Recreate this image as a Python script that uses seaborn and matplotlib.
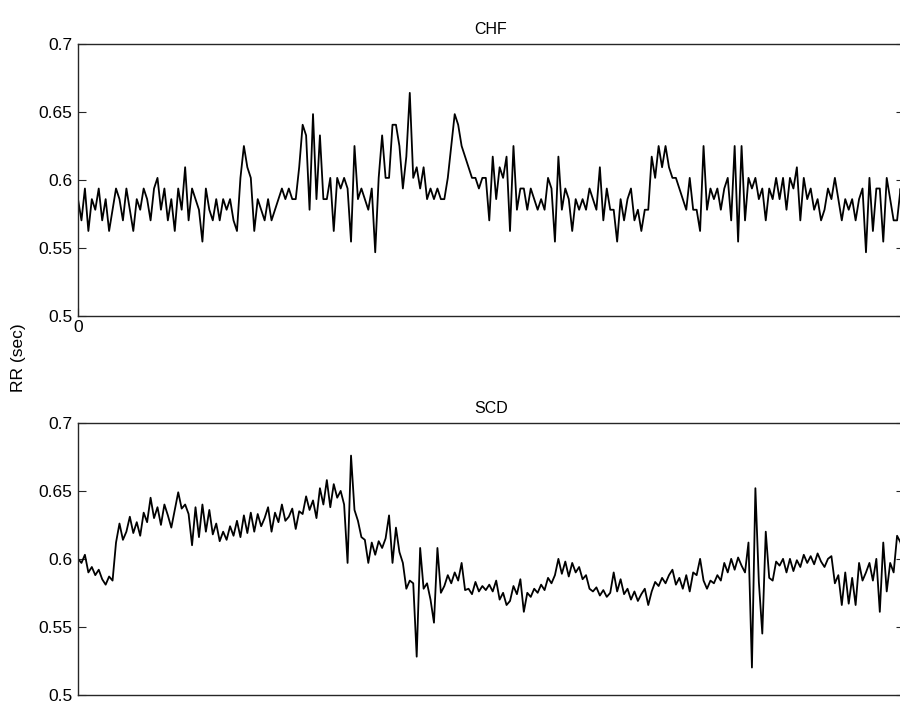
import numpy as np
import pandas as pd
import matplotlib
matplotlib.use("Agg")
import matplotlib.pyplot as plt
import seaborn as sns

# CHF RR intervals, in samples at 128 Hz
chf_counts = [
    75, 73, 76, 72, 75, 74, 76, 73, 75, 72, 74, 76, 75, 73, 76, 74, 72, 75, 74, 76,
    75, 73, 76, 77, 74, 76, 73, 75, 72, 76, 74, 78, 73, 76, 75, 74, 71, 76, 74, 73,
    75, 73, 75, 74, 75, 73, 72, 77, 80, 78, 77, 72, 75, 74, 73, 75, 73, 74, 75, 76,
    75, 76, 75, 75, 78, 82, 81, 74, 83, 75, 81, 75, 75, 77, 72, 77, 76, 77, 76, 71,
    80, 75, 76, 75, 74, 76, 70, 77, 81, 77, 77, 82, 82, 80, 76, 79, 85, 77, 78, 76,
    78, 75, 76, 75, 76, 75, 75, 77, 80, 83, 82, 80, 79, 78, 77, 77, 76, 77, 77, 73,
    79, 75, 78, 77, 79, 72, 80, 74, 76, 76, 74, 76, 75, 74, 75, 74, 77, 76, 71, 79,
    74, 76, 75, 72, 75, 74, 75, 74, 76, 75, 74, 78, 73, 76, 74, 74, 71, 75, 73, 75,
    76, 73, 74, 72, 74, 74, 79, 77, 80, 78, 80, 78, 77, 77, 76, 75, 74, 77, 74, 74,
    72, 80, 74, 76, 75, 76, 74, 76, 77, 73, 80, 71, 80, 73, 77, 76, 77, 75, 76, 73,
    76, 75, 77, 75, 77, 74, 77, 76, 78, 73, 77, 75, 76, 74, 75, 73, 74, 76, 75, 77,
    75, 73, 75, 74, 75, 73, 75, 76, 70, 77, 72, 76, 76, 71, 77, 75, 73, 73, 76, 72,
]
fs = 128.0

# SCD RR intervals in seconds
scd_rr = [
    0.600, 0.597, 0.603, 0.590, 0.594, 0.588, 0.592, 0.585, 0.581, 0.587,
    0.584, 0.612, 0.626, 0.614, 0.620, 0.631, 0.619, 0.627, 0.617, 0.634,
    0.627, 0.645, 0.630, 0.638, 0.625, 0.640, 0.632, 0.623, 0.636, 0.649,
    0.637, 0.640, 0.633, 0.610, 0.638, 0.616, 0.640, 0.620, 0.636, 0.618,
    0.626, 0.613, 0.620, 0.614, 0.624, 0.617, 0.628, 0.616, 0.632, 0.619,
    0.634, 0.620, 0.633, 0.624, 0.630, 0.638, 0.620, 0.634, 0.627, 0.640,
    0.628, 0.631, 0.637, 0.622, 0.635, 0.633, 0.646, 0.636, 0.643, 0.630,
    0.652, 0.640, 0.658, 0.638, 0.655, 0.645, 0.650, 0.640, 0.597, 0.676,
    0.636, 0.628, 0.616, 0.614, 0.597, 0.612, 0.603, 0.613, 0.608, 0.615,
    0.632, 0.597, 0.623, 0.605, 0.597, 0.578, 0.584, 0.582, 0.528, 0.608,
    0.578, 0.582, 0.570, 0.553, 0.608, 0.575, 0.580, 0.588, 0.582, 0.590,
    0.584, 0.597, 0.577, 0.578, 0.574, 0.583, 0.576, 0.580, 0.577, 0.581,
    0.576, 0.584, 0.570, 0.575, 0.566, 0.569, 0.580, 0.574, 0.585, 0.561,
    0.575, 0.572, 0.578, 0.575, 0.581, 0.577, 0.586, 0.582, 0.588, 0.600,
    0.589, 0.598, 0.587, 0.597, 0.590, 0.594, 0.585, 0.588, 0.578, 0.576,
    0.579, 0.573, 0.577, 0.572, 0.575, 0.590, 0.576, 0.585, 0.574, 0.578,
    0.570, 0.576, 0.569, 0.574, 0.578, 0.566, 0.576, 0.583, 0.580, 0.586,
    0.582, 0.588, 0.592, 0.581, 0.586, 0.578, 0.588, 0.576, 0.590, 0.588,
    0.600, 0.584, 0.578, 0.584, 0.582, 0.588, 0.584, 0.597, 0.590, 0.600,
    0.592, 0.601, 0.595, 0.590, 0.612, 0.520, 0.652, 0.583, 0.545, 0.620,
    0.586, 0.584, 0.598, 0.595, 0.600, 0.590, 0.600, 0.591, 0.599, 0.594,
    0.603, 0.597, 0.602, 0.596, 0.604, 0.598, 0.594, 0.600, 0.602, 0.582,
    0.588, 0.566, 0.590, 0.567, 0.586, 0.566, 0.597, 0.584, 0.590, 0.597,
    0.584, 0.600, 0.561, 0.612, 0.576, 0.597, 0.590, 0.617, 0.612, 0.597,
]

titles = ["CHF", "SCD"]
yticks = [0.5, 0.55, 0.6, 0.65, 0.7]
ytick_labels = ["0.5", "0.55", "0.6", "0.65", "0.7"]

sns.set_theme(style="white")
plt.rcParams['font.family'] = ['Liberation Sans', 'DejaVu Sans']

chf_rr = [c / fs for c in chf_counts]
df_chf = pd.DataFrame({"beat": np.arange(len(chf_rr)), "rr": chf_rr})
df_scd = pd.DataFrame({"beat": np.arange(len(scd_rr)), "rr": scd_rr})

fig = plt.figure(figsize=(9.0, 7.04), dpi=100)
W, H = 900.0, 704.0
left = 78 / W
width = 826 / W
ax1 = fig.add_axes([left, (H - 316) / H, width, (316 - 44) / H])
ax2 = fig.add_axes([left, (H - 694.7) / H, width, (694.7 - 423) / H])

for ax, df, title in [(ax1, df_chf, titles[0]), (ax2, df_scd, titles[1])]:
    sns.lineplot(data=df, x="beat", y="rr", ax=ax, color="black", linewidth=1.3)
    ax.set_xlim(0, len(df) - 1)
    ax.set_ylim(0.5, 0.7)
    ax.set_yticks(yticks)
    ax.set_yticklabels(ytick_labels)
    ax.set_xlabel("")
    ax.set_ylabel("")
    ax.set_title(title, fontsize=11.5, pad=7, color="black")
    for s in ax.spines.values():
        s.set_visible(True)
        s.set_color("#262626")
        s.set_linewidth(1.0)
    ax.tick_params(axis="y", direction="in", length=6, width=0.8, left=True,
                   right=True, labelsize=12.5, colors="#262626", labelcolor="black", pad=4)
    ax.tick_params(axis="x", direction="in", length=6, width=0.8, bottom=True,
                   labelsize=12.5, labelcolor="black", pad=3)

ax1.set_xticks([0])
ax1.set_xticklabels(["0"])
ax2.set_xticks([])

fig.text(18 / W, (H - 358) / H, "RR (sec)", rotation=90, ha="center", va="center",
         fontsize=12.5, color="black")

fig.savefig("out.png", dpi=100)
